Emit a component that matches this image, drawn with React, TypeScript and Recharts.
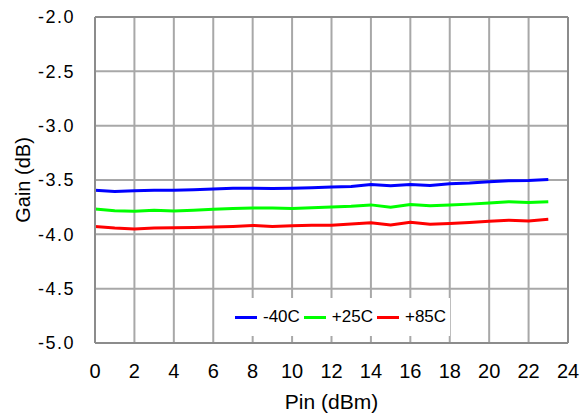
import React from "react";
import {
  LineChart,
  Line,
  XAxis,
  YAxis,
  CartesianGrid,
  ReferenceLine,
  Legend,
} from "recharts";

const pin = [0, 1, 2, 3, 4, 5, 6, 7, 8, 9, 10, 11, 12, 13, 14, 15, 16, 17, 18, 19, 20, 21, 22, 23];
const gainM40 = [-3.595, -3.605, -3.6, -3.595, -3.595, -3.59, -3.582, -3.576, -3.575, -3.578, -3.577, -3.572, -3.565, -3.56, -3.542, -3.552, -3.541, -3.55, -3.535, -3.528, -3.516, -3.508, -3.504, -3.495];
const gainP25 = [-3.767, -3.783, -3.788, -3.779, -3.786, -3.778, -3.77, -3.763, -3.757, -3.758, -3.762, -3.755, -3.749, -3.742, -3.729, -3.751, -3.725, -3.736, -3.73, -3.722, -3.712, -3.7, -3.707, -3.7];
const gainP85 = [-3.929, -3.942, -3.95, -3.942, -3.94, -3.938, -3.933, -3.927, -3.918, -3.928, -3.92, -3.917, -3.916, -3.905, -3.893, -3.913, -3.89, -3.907, -3.9, -3.89, -3.88, -3.871, -3.878, -3.862];

const xTicks = [0, 2, 4, 6, 8, 10, 12, 14, 16, 18, 20, 22, 24];
const yTicks = [-5, -4.5, -4, -3.5, -3, -2.5, -2];

const series = [
  { key: "m40", name: "-40C", color: "#0000ff" },
  { key: "p25", name: "+25C", color: "#00ff00" },
  { key: "p85", name: "+85C", color: "#ff0000" },
];

const data = pin.map((p, i) => ({
  pin: p,
  m40: gainM40[i],
  p25: gainP25[i],
  p85: gainP85[i],
}));

const font = '"Liberation Sans", Arial, Helvetica, sans-serif';
const frame = "#8c8c8c";
const grid = "#a8a8a8";

function LegendBox() {
  return (
    <div
      style={{
        background: "#fff",
        display: "flex",
        alignItems: "center",
        height: 38,
        paddingLeft: 10,
        fontFamily: font,
        fontSize: 17,
        color: "#000",
      }}
    >
      {series.map((s) => (
        <div key={s.key} style={{ display: "flex", alignItems: "center", marginRight: 4 }}>
          <div style={{ width: 22, height: 3, background: s.color, marginRight: 6 }} />
          <span>{s.name}</span>
        </div>
      ))}
    </div>
  );
}

export default function App() {
  return (
    <div style={{ position: "absolute", left: 0, top: 0, background: "#fff" }}>
      <LineChart
        width={584}
        height={415}
        data={data}
        margin={{ top: 17, right: 16, left: 0, bottom: 0 }}
        style={{ fontFamily: font }}
      >
        <CartesianGrid stroke={grid} strokeWidth={2} />
        <XAxis
          dataKey="pin"
          type="number"
          domain={[0, 24]}
          ticks={xTicks}
          interval={0}
          height={72}
          tickLine={false}
          tickSize={0}
          tickMargin={21}
          axisLine={{ stroke: frame, strokeWidth: 2 }}
          tick={{ fill: "#000", fontSize: 20 }}
          label={{
            value: "Pin (dBm)",
            position: "insideBottom",
            offset: 6,
            style: { fill: "#000", fontSize: 21 },
          }}
        />
        <YAxis
          type="number"
          domain={[-5, -2]}
          ticks={yTicks}
          interval={0}
          width={95}
          tickLine={false}
          tickSize={0}
          tickMargin={20}
          axisLine={{ stroke: frame, strokeWidth: 2 }}
          tickFormatter={(v: number) => v.toFixed(1)}
          tick={{ fill: "#000", fontSize: 18, letterSpacing: 1.5 }}
          label={{
            value: "Gain (dB)",
            angle: -90,
            position: "insideLeft",
            offset: 23,
            style: { fill: "#000", fontSize: 20, textAnchor: "middle" },
          }}
        />
        <ReferenceLine y={-2} stroke={frame} strokeWidth={2} />
        <ReferenceLine x={24} stroke={frame} strokeWidth={2} />
        {series.map((s) => (
          <Line
            key={s.key}
            dataKey={s.key}
            name={s.name}
            stroke={s.color}
            strokeWidth={3}
            dot={false}
            type="linear"
            isAnimationActive={false}
          />
        ))}
        <Legend
          layout="horizontal"
          verticalAlign="middle"
          align="center"
          content={() => <LegendBox />}
          wrapperStyle={{ left: 225, top: 298, width: 225, height: 38 }}
        />
      </LineChart>
    </div>
  );
}
